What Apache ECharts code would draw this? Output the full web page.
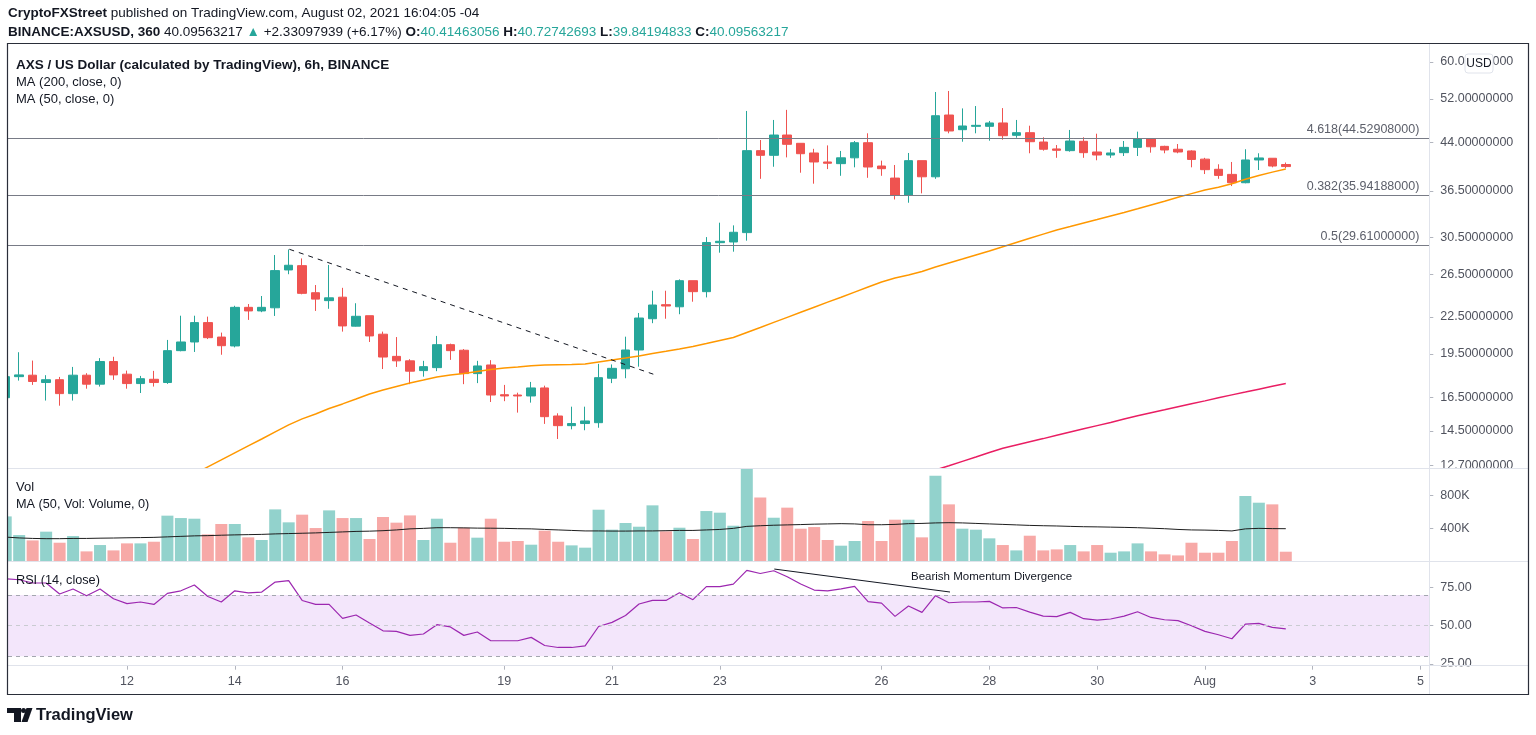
<!DOCTYPE html>
<html>
<head>
<meta charset="utf-8">
<script src="https://cdn.jsdelivr.net/npm/echarts@6/dist/echarts.min.js"></script>
<style>
html,body{margin:0;padding:0;background:#ffffff;}
#chart{width:1536px;height:735px;}
</style>
</head>
<body>
<div id="chart"></div>
<script>
// ---- 6h candles, AXS/USD (BINANCE), first candle 2021-07-09 18:00 ----
const candleStart = '2021-07-09 18:00';
const opens  = [16.48,17.87,17.97,17.47,17.66,16.74,17.97,17.36,18.94,18.04,17.40,17.69,17.47,19.75,20.42,22.00,20.81,20.11,23.33,23.01,23.29,26.94,27.39,24.68,23.94,24.26,21.70,22.59,21.04,19.32,18.99,18.29,18.50,20.21,19.78,18.08,18.69,16.67,16.65,16.59,17.11,15.36,14.80,14.92,14.97,17.76,18.42,19.80,22.33,23.57,23.38,25.85,24.78,29.92,30.00,31.10,42.63,41.87,45.27,43.85,42.25,40.81,40.55,41.47,43.95,40.18,38.36,35.94,41.02,38.55,48.89,46.21,46.81,46.81,47.42,45.22,45.68,44.07,42.91,42.63,44.19,42.41,41.92,42.30,43.17,44.63,43.34,42.86,42.58,41.26,39.68,38.91,37.68,41.13,41.40,40.41463056];
const highs  = [18.20,19.63,19.01,17.97,17.85,18.55,18.11,19.19,19.29,18.29,17.92,18.27,20.58,22.59,22.59,22.51,21.17,23.47,23.63,24.37,28.53,29.15,28.16,25.42,27.46,25.15,23.70,22.59,21.25,20.81,19.11,18.99,20.90,20.29,19.87,18.99,19.04,17.31,16.80,17.51,17.26,15.52,15.92,15.92,18.77,18.73,20.84,22.83,24.87,24.87,25.98,25.85,30.57,32.31,31.98,49.66,44.41,47.97,49.87,43.85,42.93,43.50,42.58,44.24,45.57,41.02,40.34,42.25,41.02,53.42,53.63,50.15,50.61,47.79,50.21,47.97,46.92,44.88,43.56,46.16,44.88,45.50,42.91,44.24,45.86,44.75,43.44,43.73,42.69,41.47,40.45,40.81,42.86,42.20,41.40,40.72742693];
const lows   = [16.28,17.60,17.31,16.30,15.98,16.30,17.06,17.20,17.65,17.06,16.78,17.20,17.38,19.70,19.65,20.65,19.44,20.00,22.23,22.90,22.57,26.50,24.53,23.01,23.20,21.25,21.67,20.42,18.40,18.55,17.36,17.87,18.25,19.06,17.36,17.43,16.21,16.26,15.56,16.17,14.90,14.06,14.59,14.54,14.68,17.43,17.76,18.57,21.95,22.33,22.72,23.84,24.24,28.79,28.90,30.15,38.25,40.07,41.54,39.16,37.54,39.71,38.70,39.98,38.40,38.70,35.33,34.89,36.17,38.25,45.57,44.12,45.57,44.29,44.46,44.80,42.20,42.63,41.47,42.46,41.47,41.08,41.47,41.76,41.76,42.30,42.20,42.20,39.98,38.96,38.25,37.20,37.60,39.57,39.98,39.84194833];
const closes = [17.87,17.99,17.54,17.66,16.74,17.97,17.36,18.94,17.99,17.40,17.73,17.47,19.75,20.42,22.00,20.76,20.13,23.33,23.01,23.33,26.87,27.43,24.62,24.08,24.20,21.72,22.54,20.90,19.27,18.99,18.25,18.57,20.21,19.75,18.08,18.62,16.65,16.59,16.59,17.11,15.32,14.80,14.92,15.07,17.80,18.45,19.80,22.39,23.54,23.45,25.85,24.78,29.94,30.08,31.14,42.63,41.87,45.27,43.68,42.13,40.81,40.61,41.47,43.95,40.03,39.77,35.94,41.02,38.55,48.76,45.98,46.87,46.99,47.42,45.15,45.68,44.12,42.86,42.69,44.24,42.30,41.92,42.25,43.17,44.63,43.27,42.74,42.41,41.21,39.62,38.76,37.68,41.13,41.45,40.18,40.09563217];
const volumes = [549000,323000,258000,364000,230000,311000,125000,202000,137000,222000,222000,242000,558000,529000,521000,331000,457000,457000,295000,263000,634000,477000,570000,408000,622000,529000,529000,275000,542000,473000,561000,263000,521000,230000,412000,291000,521000,242000,251000,206000,376000,242000,198000,170000,630000,388000,469000,424000,683000,368000,412000,275000,614000,594000,436000,1124000,779000,533000,655000,400000,420000,263000,194000,251000,493000,251000,509000,509000,295000,1042000,695000,400000,388000,283000,202000,137000,315000,137000,149000,202000,125000,202000,109000,125000,222000,125000,89000,76000,230000,109000,109000,251000,796000,715000,695000,121000];
const volMA50 = [298000,288000,282000,279000,279000,282000,282000,285000,287000,290000,292000,295000,301000,307000,313000,316000,321000,325000,328000,331000,337000,341000,345000,349000,355000,361000,367000,370000,376000,385000,398000,404000,412000,412000,410000,407000,406000,404000,400000,398000,391000,385000,379000,373000,373000,371000,371000,373000,373000,376000,379000,379000,385000,391000,404000,428000,436000,442000,446000,450000,455000,458000,461000,458000,448000,448000,452000,461000,464000,470000,473000,470000,464000,458000,452000,446000,440000,436000,433000,428000,424000,422000,419000,416000,412000,406000,400000,391000,385000,383000,379000,373000,398000,404000,401000,400000];
const rsi14 = [80.7,80.0,77.9,77.9,70.7,74.0,69.6,74.0,67.6,64.4,65.5,63.9,71.1,72.8,76.6,69.1,65.5,72.8,71.5,72.0,78.5,79.4,66.5,63.9,63.9,54.8,57.0,51.8,46.7,46.3,43.7,44.6,50.7,49.2,43.7,45.9,40.2,40.2,40.2,42.4,37.1,35.8,35.8,36.8,49.5,52.2,56.7,64.2,66.5,66.5,71.5,67.0,75.5,75.5,77.2,86.1,84.1,85.9,82.0,77.2,73.3,72.8,74.0,75.7,65.7,64.8,56.1,62.9,58.7,69.6,65.0,65.5,65.5,65.9,61.6,61.9,58.9,56.3,55.9,58.7,54.6,53.7,54.4,56.3,59.1,55.4,53.9,53.3,50.0,46.3,44.1,41.5,51.1,51.5,48.9,48.0];
const ma50 = [null,null,null,null,null,null,null,null,null,null,null,null,null,null,12.29,12.63,12.97,13.33,13.69,14.06,14.45,14.84,15.19,15.48,15.81,16.09,16.40,16.72,16.98,17.21,17.44,17.64,17.85,17.99,18.09,18.23,18.37,18.48,18.55,18.64,18.68,18.71,18.73,18.76,18.91,19.06,19.20,19.35,19.54,19.70,19.88,20.07,20.30,20.54,20.78,21.18,21.59,22.02,22.45,22.89,23.34,23.80,24.26,24.74,25.23,25.72,26.12,26.43,26.78,27.25,27.67,28.10,28.54,28.98,29.46,29.94,30.43,30.92,31.42,31.84,32.28,32.71,33.16,33.61,34.09,34.59,35.10,35.62,36.13,36.65,37.04,37.53,38.19,38.75,39.25,39.71];
const ma200 = [null,null,null,null,null,null,null,null,null,null,null,null,null,null,null,null,null,null,null,null,null,null,null,null,null,null,null,null,null,null,null,null,null,null,null,null,null,null,null,null,null,null,null,null,null,null,null,null,null,null,null,null,null,null,null,null,null,null,null,null,null,null,null,null,null,null,null,null,null,12.48,12.68,12.90,13.12,13.35,13.57,13.74,13.91,14.08,14.26,14.44,14.62,14.80,14.98,15.18,15.37,15.55,15.73,15.92,16.10,16.28,16.47,16.66,16.84,17.03,17.22,17.41];

// fib levels drawn on the chart
const fibRatios = ['4.618','0.382','0.5'];
const fibPrices = [44.52908,35.94188,29.61];
// hand-drawn lines: [candle index, value]
const trendLinePts = [[21.05,29.17],[48.06,18.04]];
const divergencePts = [[57.04,87.0],[70.08,72.0]];

// axis ticks
const priceTicks = [60,52,44,36.5,30.5,26.5,22.5,19.5,16.5,14.5,12.7];
const volTicks = [400000,800000];
const rsiTicks = [25,50,75];
const timeTickIdx = [9,17,25,37,45,53,65,73,81,89,97,105];
const timeTickLabels = ['12','14','16','19','21','23','26','28','30','Aug','3','5'];

const FONT = '"Liberation Sans", Arial, sans-serif';
const UP = '#26a69a', DOWN = '#ef5350';
const AXC = '#50535e';
const X_MIN = 0.17, X_MAX = 105.65;
const PRICE_MIN = 12.56, PRICE_MAX = 64.5;

const L = Math.log;
const candleData = opens.map((o,i)=>[i, L(o), L(closes[i]), L(lows[i]), L(highs[i])]);
const volData = volumes.map((v,i)=>({value:[i,v], itemStyle:{color: closes[i] >= opens[i] ? 'rgba(38,166,154,0.5)' : 'rgba(239,83,80,0.5)'}}));
const lineOf = (arr, f) => arr.map((v,i)=> v==null ? null : [i, f ? f(v) : v]).filter(p=>p);

const chart = echarts.init(document.getElementById('chart'), null, {renderer:'canvas'});

const xBase = (g) => ({type:'value', gridIndex:g, min:X_MIN, max:X_MAX, axisLine:{show:false}, splitLine:{show:false}, axisTick:{show:false}, axisLabel:{show:false}});
const yBase = (g, min, max, ticks, fmt) => ({
  type:'value', gridIndex:g, position:'right', min:min, max:max,
  axisLine:{show:false}, splitLine:{show:false},
  axisTick:{show:true, customValues:ticks, length:4, lineStyle:{color:'#b2b5be'}},
  axisLabel:{customValues:ticks, formatter:fmt, color:AXC, fontSize:12.5, margin:11, fontFamily:FONT}
});

const option = {
  animation:false,
  backgroundColor:'#ffffff',
  textStyle:{fontFamily:FONT},
  grid:[
    {left:8, width:1421.3, top:43, height:425.3},
    {left:8, width:1421.3, top:468.3, height:93.4},
    {left:8, width:1421.3, top:561.7, height:104}
  ],
  xAxis:[
    xBase(0), xBase(1),
    Object.assign(xBase(2), {
      axisTick:{show:true, customValues:timeTickIdx, length:4, lineStyle:{color:'#b2b5be'}},
      axisLabel:{show:true, customValues:timeTickIdx, color:AXC, fontSize:12.5, margin:9, fontFamily:FONT,
        formatter:(v)=>{const j=timeTickIdx.indexOf(Math.round(v)); return j>=0?timeTickLabels[j]:'';}}
    })
  ],
  yAxis:[
    yBase(0, L(PRICE_MIN), L(PRICE_MAX), priceTicks.map(L), (v)=>Math.exp(v).toFixed(8)),
    yBase(1, 0, 1132000, volTicks, (v)=>Math.round(v/1000)+'K'),
    yBase(2, 23.9, 91.8, rsiTicks, (v)=>Number(v).toFixed(2))
  ],
  series:[
    {
      type:'candlestick', xAxisIndex:0, yAxisIndex:0, data:candleData, barWidth:9, clip:true,
      itemStyle:{color:UP, color0:DOWN, borderColor:UP, borderColor0:DOWN, borderWidth:1},
      markLine:{
        silent:true, symbol:['none','none'], animation:false,
        lineStyle:{color:'#787b86', width:1, type:'solid'},
        label:{position:'insideEndTop', color:'#5d606b', fontSize:12.5, fontFamily:FONT, distance:[10,2]},
        data: fibPrices.map((p,i)=>({yAxis:L(p), label:{formatter: fibRatios[i]+'('+p.toFixed(8)+')'}}))
      },
      z:3
    },
    {type:'line', xAxisIndex:0, yAxisIndex:0, data:lineOf(ma50, L), symbol:'none', smooth:false,
      lineStyle:{color:'#ff9800', width:1.5}, z:4},
    {type:'line', xAxisIndex:0, yAxisIndex:0, data:lineOf(ma200, L), symbol:'none',
      lineStyle:{color:'#e91e63', width:1.5}, z:4},
    {type:'line', xAxisIndex:0, yAxisIndex:0, data:trendLinePts.map(p=>[p[0], L(p[1])]), symbol:'none',
      lineStyle:{color:'#131722', width:1, type:[5,5]}, z:5},
    {type:'bar', xAxisIndex:1, yAxisIndex:1, data:volData, barWidth:12, clip:true},
    {type:'line', xAxisIndex:1, yAxisIndex:1, data:lineOf(volMA50), symbol:'none',
      lineStyle:{color:'#1e1e1e', width:1}, z:4},
    {type:'line', xAxisIndex:2, yAxisIndex:2, data:lineOf(rsi14), symbol:'none',
      lineStyle:{color:'#9c27b0', width:1.2}, z:4,
      markArea:{silent:true, itemStyle:{color:'#f3e6fb'}, data:[[{yAxis:30},{yAxis:70}]]},
      markLine:{silent:true, symbol:['none','none'], label:{show:false},
        lineStyle:{color:'#a3a6af', width:1, type:[4,4]},
        data:[{yAxis:70},{yAxis:50, lineStyle:{color:'#c9cbd1'}},{yAxis:30}]}
    },
    {type:'line', xAxisIndex:2, yAxisIndex:2, data:divergencePts, symbol:'none',
      lineStyle:{color:'#131722', width:1}, z:5}
  ],
  graphic:[
    // white margin left of the frame (clips the first half-candle)
    {type:'rect', z:96, shape:{x:0, y:43, width:7.6, height:653}, style:{fill:'#ffffff'}},
    // header
    {type:'text', x:8, y:13, z:100, style:{text:'{b|CryptoFXStreet} published on TradingView.com, August 02, 2021 16:04:05 -04',
      fill:'#131722', font:'13.5px '+FONT, verticalAlign:'middle',
      rich:{b:{fontWeight:'bold', fontSize:13.5, fill:'#131722', fontFamily:FONT}}}},
    {type:'text', x:8, y:32, z:100, style:{
      text:'{b|BINANCE:AXSUSD, 360} 40.09563217 {g|▲} +2.33097939 (+6.17%) {b|O:}{g|40.41463056} {b|H:}{g|40.72742693} {b|L:}{g|39.84194833} {b|C:}{g|40.09563217}',
      fill:'#131722', font:'13.5px '+FONT, verticalAlign:'middle',
      rich:{b:{fontWeight:'bold', fontSize:13.5, fill:'#131722', fontFamily:FONT}, g:{fill:UP, fontSize:13.5, fontFamily:FONT}}}},
    // legends
    {type:'text', x:16, y:65, z:100, style:{text:'AXS / US Dollar (calculated by TradingView), 6h, BINANCE', fill:'#131722', font:'bold 13.5px '+FONT, verticalAlign:'middle'}},
    {type:'text', x:16, y:82, z:100, style:{text:'MA (200, close, 0)', fill:'#131722', font:'13px '+FONT, verticalAlign:'middle'}},
    {type:'text', x:16, y:99, z:100, style:{text:'MA (50, close, 0)', fill:'#131722', font:'13px '+FONT, verticalAlign:'middle'}},
    {type:'text', x:16, y:487, z:100, style:{text:'Vol', fill:'#131722', font:'13px '+FONT, verticalAlign:'middle'}},
    {type:'text', x:16, y:504, z:100, style:{text:'MA (50, Vol: Volume, 0)', fill:'#131722', font:'12.7px '+FONT, verticalAlign:'middle'}},
    {type:'text', x:16, y:580, z:100, style:{text:'RSI (14, close)', fill:'#131722', font:'12.7px '+FONT, verticalAlign:'middle'}},
    {type:'text', x:911, y:577, z:100, style:{text:'Bearish Momentum Divergence', fill:'#131722', font:'11.5px '+FONT, verticalAlign:'middle'}},
    // covers for clipped axis labels
    {type:'rect', z:90, shape:{x:1431, y:469, width:96, height:6}, style:{fill:'#ffffff'}},
    {type:'rect', z:90, shape:{x:1431, y:666.5, width:96, height:27}, style:{fill:'#ffffff'}},
    // separators
    {type:'line', z:95, shape:{x1:8, y1:468.5, x2:1528, y2:468.5}, style:{stroke:'#e0e3eb', lineWidth:1}},
    {type:'line', z:95, shape:{x1:8, y1:561.5, x2:1528, y2:561.5}, style:{stroke:'#e0e3eb', lineWidth:1}},
    {type:'line', z:95, shape:{x1:8, y1:665.5, x2:1528, y2:665.5}, style:{stroke:'#e0e3eb', lineWidth:1}},
    {type:'line', z:95, shape:{x1:1429.5, y1:44, x2:1429.5, y2:694}, style:{stroke:'#e0e3eb', lineWidth:1}},
    // frame
    {type:'rect', z:100, shape:{x:7.5, y:43.5, width:1521, height:651}, style:{fill:null, stroke:'#2a2e39', lineWidth:1.2}},
    // USD badge
    {type:'rect', z:101, shape:{x:1465, y:54, width:28, height:19, r:3}, style:{fill:'#ffffff', stroke:'#e0e3eb', lineWidth:1}},
    {type:'text', z:102, x:1479, y:63.5, style:{text:'USD', fill:'#131722', font:'12px '+FONT, align:'center', verticalAlign:'middle'}},
    // TradingView logo
    {type:'rect', z:100, shape:{x:7, y:708, width:14, height:5}, style:{fill:'#131722'}},
    {type:'rect', z:100, shape:{x:14, y:708, width:7, height:14}, style:{fill:'#131722'}},
    {type:'circle', z:100, shape:{cx:23.5, cy:710.5, r:2.5}, style:{fill:'#131722'}},
    {type:'polygon', z:100, shape:{points:[[26.5,708],[32.5,708],[27.5,722],[21.5,722]]}, style:{fill:'#131722'}},
    {type:'text', z:100, x:36, y:715, style:{text:'TradingView', fill:'#131722', font:'bold 16.5px '+FONT, verticalAlign:'middle'}}
  ]
};
chart.setOption(option);
</script>
</body>
</html>
